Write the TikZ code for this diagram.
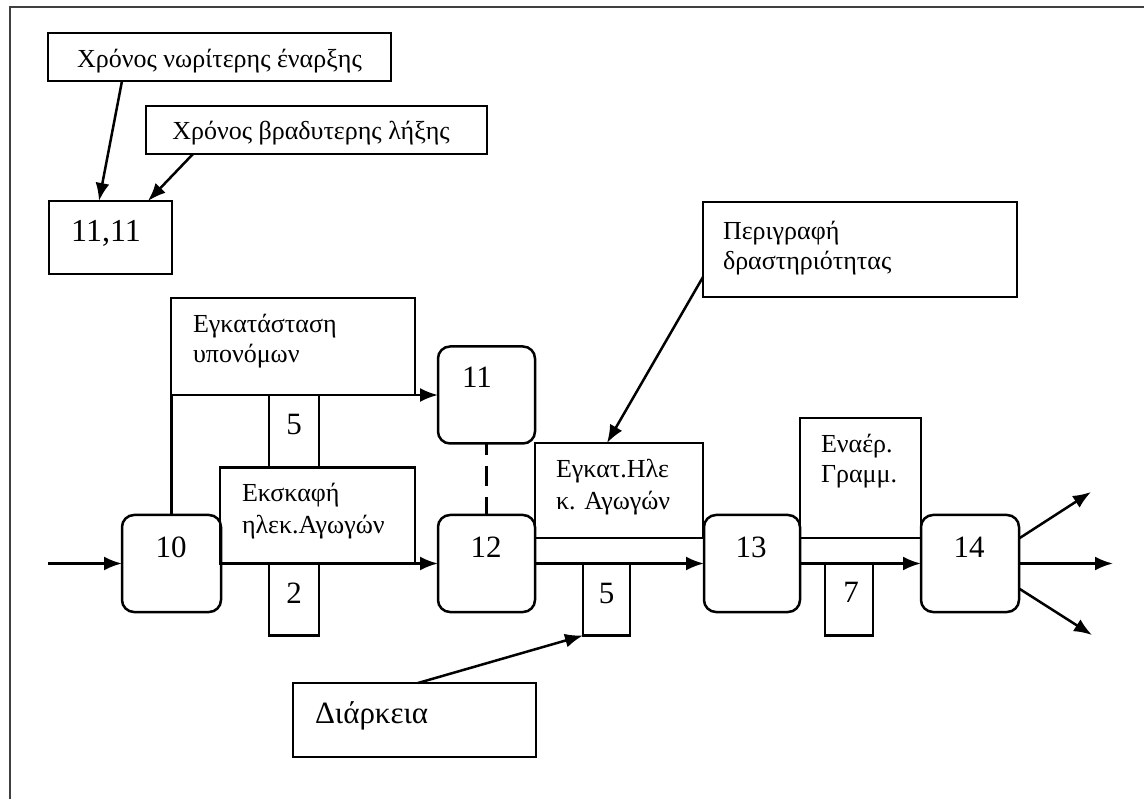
\documentclass[tikz,border=0pt]{standalone}
\usepackage{fontspec}
\setmainfont{Liberation Serif}
\usetikzlibrary{arrows.meta,calc}
\begin{document}
\begin{tikzpicture}[x=1pt,y=-1pt,
  line width=2.5pt,
  box/.style={draw, rectangle, inner sep=0pt, outer sep=0pt},
  evt/.style={draw, rectangle, rounded corners=12pt, inner sep=0pt, outer sep=0pt, minimum width=97pt, minimum height=97pt},
  txt/.style={inner sep=0pt, outer sep=0pt, anchor=base west, font=\fontsize{26}{30}\selectfont},
  ctxt/.style={inner sep=0pt, outer sep=0pt, anchor=base, font=\fontsize{26}{30}\selectfont},
  num/.style={inner sep=0pt, outer sep=0pt, anchor=base, font=\fontsize{31}{36}\selectfont},
  arr/.style={-{Latex[length=18pt,width=14pt]}},
]
\useasboundingbox (0,0) rectangle (1144,799);
\fill[white] (0,0) rectangle (1144,799);
% outer frame
\draw[line width=1.6pt, black!75] (10,799) -- (10,7) -- (1144,7);

% legend boxes
\node[box, minimum width=343pt, minimum height=48pt] (ne) at (219.5,57) {};
\node[ctxt] (tne) at (219.5,68) {Χρόνος νωρίτερης έναρξης};
\node[box, minimum width=341pt, minimum height=48pt] (lf) at (316.5,130) {};
\node[ctxt] (tlf) at (311,140) {Χρόνος βραδυτερης λήξης};
\node[box, minimum width=123pt, minimum height=73pt] (t11) at (110.5,237.5) {};
\node[num, font=\fontsize{32}{36}\selectfont] (tt11) at (106,242) {11,11};

% activity boxes
\node[box, minimum width=244pt, minimum height=97pt] (bs) at (293,346.5) {};
\node[txt] (tbs1) at (193,333) {Εγκατάσταση};
\node[txt] (tbs2) at (193,363) {υπονόμων};
\node[box, minimum width=50pt, minimum height=72pt] (d1) at (294,431) {};
\node[num] (td1) at (294,435) {5};

\node[box, minimum width=195pt, minimum height=96pt] (ek) at (317.5,515.5) {};
\node[txt] (tek1) at (242,502) {Εκσκαφή};
\node[txt] (tek2) at (242,533) {ηλεκ.Αγωγών};
\node[box, minimum width=50pt, minimum height=72pt] (d2) at (294,599.5) {};
\node[num] (td2) at (294,603) {2};

\node[box, minimum width=168pt, minimum height=95pt] (ei) at (619,490.5) {};
\node[txt] (tei1) at (556,478) {Εγκατ.Ηλε};
\node[txt] (tei2) at (556,510) {κ. Αγωγών};
\node[box, minimum width=47pt, minimum height=72pt] (d3) at (606.5,599.5) {};
\node[num] (td3) at (606.5,603) {5};

\node[box, minimum width=121pt, minimum height=120pt] (ea) at (860.5,478) {};
\node[txt] (tea1) at (821,453) {Εναέρ.};
\node[txt] (tea2) at (821,483) {Γραμμ.};
\node[box, minimum width=48pt, minimum height=72pt] (d4) at (849,599.5) {};
\node[num] (td4) at (851,602) {7};

\node[box, minimum width=314pt, minimum height=95pt] (pd) at (860,249.5) {};
\node[txt] (tpd1) at (723,240) {Περιγραφή};
\node[txt] (tpd2) at (723,270) {δραστηριότητας};

\node[box, minimum width=243pt, minimum height=74pt] (di) at (414.5,720) {};
\node[txt, font=\fontsize{31}{36}\selectfont] (tdi) at (315,723) {Διάρκεια};

% events
\node[evt, minimum width=99pt] (n10) at (171.5,563.5) {};
\node[num] (l10) at (171,558) {10};
\node[evt] (n11) at (486.5,395) {};
\node[num] (l11) at (477,388) {11};
\node[evt] (n12) at (486.5,563.5) {};
\node[num] (l12) at (486,558) {12};
\node[evt, minimum width=96pt] (n13) at (752,563.5) {};
\node[num] (l13) at (751,557) {13};
\node[evt, minimum width=98pt] (n14) at (970,563.5) {};
\node[num] (l14) at (969,557) {14};

\coordinate (in) at (48,563.5);
\coordinate (o1) at (1091,492);
\coordinate (o2) at (1113,563.5);
\coordinate (o3) at (1092,635);

% connectors
\draw[arr] (in) -- (n10.west);
\draw[arr] (n10.north) |- (n11.west);
\draw[arr] (n10.east) -- (n12.west);
\draw[dash pattern=on 20pt off 11pt, dash phase=8pt] (n11.south) -- (n12.north);
\draw[arr] (n12.east) -- (n13.west);
\draw[arr] (n13.east) -- (n14.west);
\draw[arr] ([yshift=25pt]n14.east) -- (o1);
\draw[arr] (n14.east) -- (o2);
\draw[arr] ([yshift=-25pt]n14.east) -- (o3);

% callouts
\draw[arr] ([xshift=-97.5pt]ne.south) -- ([xshift=-11.5pt]t11.north);
\draw[arr] ([xshift=47pt]lf.south west) -- ([xshift=37.5pt]t11.north);
\draw[arr] ([yshift=-27.5pt]pd.west) -- ([xshift=-12pt]ei.north);
\draw[arr] ([xshift=3.5pt]di.north) -- (d3.south west);
\end{tikzpicture}
\end{document}
